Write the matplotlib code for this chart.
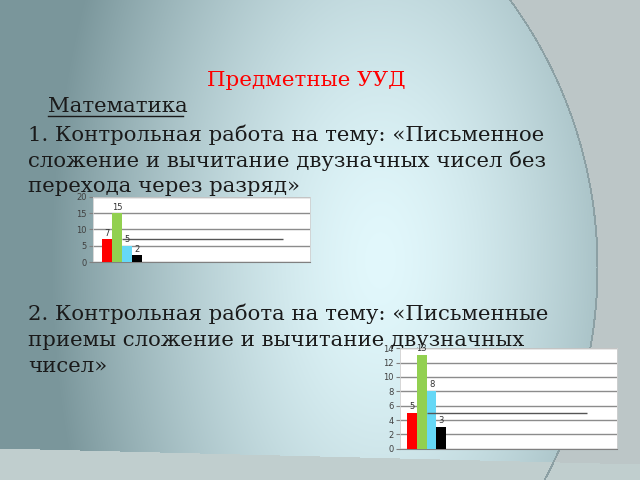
import numpy as np
import matplotlib
matplotlib.use("Agg")
import matplotlib.pyplot as plt

# chart data
series_colors = ["#ff0000", "#92d050", "#66d8f6", "#000000"]
work1_values = [7, 15, 5, 2]
work1_line = 7
work2_values = [5, 13, 8, 3]
work2_line = 5

title = "Предметные УУД"
subject = "Математика"
task1_lines = ["1. Контрольная работа на тему: «Письменное",
               "сложение и вычитание двузначных чисел без",
               "перехода через разряд»"]
task2_lines = ["2. Контрольная работа на тему: «Письменные",
               "приемы сложение и вычитание двузначных",
               "чисел»"]

W, H = 640, 480
fig = plt.figure(figsize=(6.4, 4.8), dpi=100)

# background: teal gradient inside a large arc, grey outside
yy, xx = np.mgrid[0:H, 0:W].astype(float)
d = np.sqrt(((xx - 380) / 330) ** 2 + ((yy - 260) / 600) ** 2)
d = np.clip(d, 0, 1) ** 1.5
light = np.array([226, 248, 252]) / 255
dark = np.array([122, 150, 155]) / 255
bg = light[None, None, :] * (1 - d[..., None]) + dark[None, None, :] * d[..., None]
r = np.sqrt((xx - 144) ** 2 + (yy - 267) ** 2)
outside = r > 453
bg[outside] = np.array([188, 198, 199]) / 255
band = yy > 448 + xx * 0.025
bg[band] = np.array([192, 206, 206]) / 255
edge = np.abs(r - 453) < 1.0
bg[edge] = np.array([140, 160, 164]) / 255
bga = fig.add_axes([0, 0, 1, 1])
bga.imshow(bg, aspect="auto", extent=[0, W, H, 0])
bga.set_xlim(0, W)
bga.set_ylim(H, 0)
bga.axis("off")

serif = "DejaVu Serif"
txt_color = "#1a1a1a"
fs = 15.3
bga.text(306, 80, title, color="#ff0000", fontsize=15.4, family=serif,
         ha="center", va="center")
bga.text(48, 106, subject, color=txt_color, fontsize=fs, family=serif,
         ha="left", va="center")
bga.plot([48, 183], [116, 116], color=txt_color, lw=1)
for i, s in enumerate(task1_lines):
    bga.text(28, 135 + 26 * i, s, color=txt_color, fontsize=fs, family=serif,
             ha="left", va="center")
for i, s in enumerate(task2_lines):
    bga.text(28, 314 + 26 * i, s, color=txt_color, fontsize=fs, family=serif,
             ha="left", va="center")


def bar_chart(rect, values, line_y, ymax, step, xleft):
    ax = fig.add_axes(rect)
    ax.set_facecolor("white")
    x = np.arange(len(values))
    ax.bar(x, values, width=1.0, color=series_colors, zorder=3)
    ax.hlines(line_y, 1.53, 17.9, color="#555555", lw=1, zorder=4)
    for xi, v in zip(x, values):
        ax.text(xi, v + ymax * 0.02, str(v), ha="center", va="bottom",
                fontsize=6, color="#333333", zorder=5)
    ax.set_xlim(xleft, xleft + 22.1)
    ax.set_ylim(0, ymax)
    ax.set_yticks(np.arange(0, ymax + 1, step))
    ax.set_xticks([])
    ax.yaxis.grid(True, color="#8c8c8c", lw=1)
    ax.set_axisbelow(True)
    ax.tick_params(axis="y", labelsize=6, labelcolor="#404040", color="#808080",
                   length=3, width=0.8, pad=1.5)
    for side in ["top", "right", "left"]:
        ax.spines[side].set_color("#d0d0d0")
        ax.spines[side].set_linewidth(0.6)
    ax.spines["bottom"].set_color("#808080")
    return ax


bar_chart([93.3 / W, (H - 262) / H, 216.7 / W, 65.3 / H], work1_values, work1_line, 20, 5, -1.42)
bar_chart([400 / W, (H - 448.7) / H, 216.7 / W, 100.4 / H], work2_values, work2_line, 14, 2, -1.22)

fig.savefig("out.png", dpi=100)
